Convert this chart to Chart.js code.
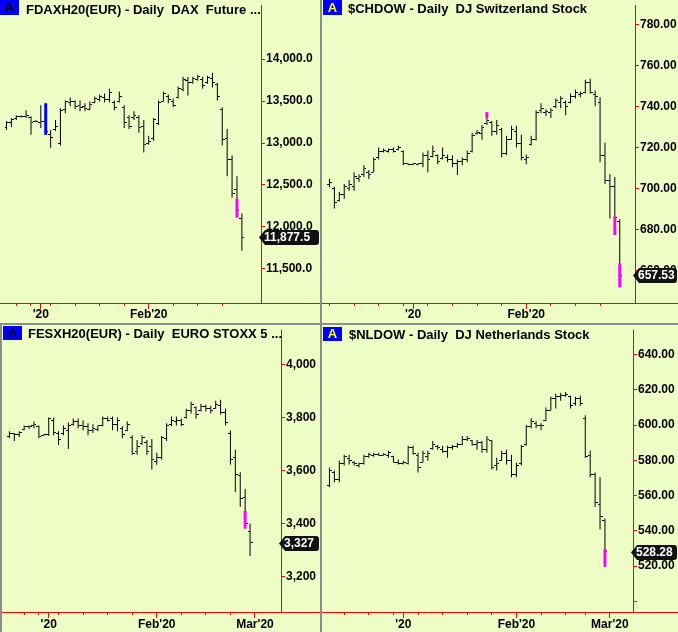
<!DOCTYPE html>
<html lang="en">
<head>
<meta charset="UTF-8">
<title>Daily bars - DAX, Switzerland, EURO STOXX, Netherlands</title>
<script src="https://cdn.jsdelivr.net/npm/chart.js"></script>
<style>
  html, body { margin: 0; padding: 0; }
  body { width: 678px; height: 632px; position: relative; overflow: hidden; background: #eefcc6; }
  canvas { position: absolute; }
  .sep { position: absolute; background: #8c8c8c; }
  .badge { position: absolute; width: 19px; background: #0000ff; font: bold 13px "Liberation Sans", Arial, sans-serif; text-align: center; }
  .title { position: absolute; font: bold 13px/15px "Liberation Sans", Arial, sans-serif; color: #000; white-space: pre; }
</style>
</head>
<body>
<canvas id="dax" width="320" height="323" style="left:0px;top:0px"></canvas>
<canvas id="chdow" width="356" height="323" style="left:322px;top:0px"></canvas>
<canvas id="fesx" width="320" height="307" style="left:0px;top:325px"></canvas>
<canvas id="nldow" width="356" height="307" style="left:322px;top:325px"></canvas>

<div class="sep" style="left:320px;top:0px;width:2px;height:632px"></div>
<div class="sep" style="left:0px;top:323px;width:678px;height:2px"></div>
<div class="sep" style="left:0px;top:325px;width:2px;height:307px"></div>

<div class="badge" style="left:0px;top:-1px;height:16px;line-height:17px;color:#000">A</div>
<div class="title" style="left:26px;top:2px">FDAXH20(EUR) - Daily  DAX  Future ...</div>
<div class="badge" style="left:323px;top:-1px;height:16px;line-height:17px;color:#ffff00">A</div>
<div class="title" style="left:348px;top:1px">$CHDOW - Daily  DJ Switzerland Stock</div>
<div class="badge" style="left:3px;top:326px;height:14px;line-height:14px;color:#000">A</div>
<div class="title" style="left:28px;top:326px">FESXH20(EUR) - Daily  EURO STOXX 5 ...</div>
<div class="badge" style="left:323px;top:327px;height:14px;line-height:14px;color:#ffff00">A</div>
<div class="title" style="left:349px;top:327px">$NLDOW - Daily  DJ Netherlands Stock</div>

<script>
// ---- DAX future (top left) ----
const daxOpen = [13180,13240,13290,13310,13320,13300,13260,13250,13260,13100,13160,13000,13400,13480,13490,13450,13430,13400,13480,13520,13540,13520,13480,13500,13420,13300,13300,13300,13200,13000,13050,13230,13500,13560,13500,13540,13640,13740,13720,13760,13760,13720,13770,13700,13400,13050,12800,12450,12100];
const daxHigh = [13262,13297,13332,13330,13391,13320,13275,13449,13473,13156,13273,13414,13508,13543,13508,13508,13473,13496,13555,13578,13590,13648,13508,13613,13449,13332,13379,13332,13273,13086,13297,13508,13613,13578,13531,13672,13789,13789,13789,13812,13789,13801,13836,13719,13426,13168,12851,12605,12160];
const daxLow = [13156,13191,13273,13305,13297,13098,13250,13180,13098,12945,13144,12969,13355,13437,13402,13379,13379,13391,13473,13496,13484,13484,13391,13484,13180,13168,13273,13121,12887,12980,13027,13215,13496,13473,13426,13531,13613,13566,13707,13742,13648,13707,13660,13508,12969,12605,12347,12113,11715];
const daxClose = [13240,13280,13310,13318,13330,13240,13262,13260,13140,13060,13200,13390,13490,13500,13440,13420,13410,13460,13530,13550,13520,13600,13420,13560,13250,13200,13330,13180,12980,13020,13280,13480,13590,13520,13450,13650,13760,13720,13770,13790,13680,13780,13720,13560,13040,12800,12400,12200,11877.5];
const daxBuy = [[8, 13098, 13473]];
const daxSell = [[47, 12113, 12336]];
const daxWeekIdx = [2, 5, 9, 14, 19, 24, 34, 39, 44];
const daxMonthIdx = [7, 29];
const daxMonthLbl = ["'20", "Feb'20"];
const daxYTicks = [11500, 12000, 12500, 13000, 13500, 14000];
const daxYLbl = ['11,500.0', '12,000.0', '12,500.0', '13,000.0', '13,500.0', '14,000.0'];

// ---- DJ Switzerland (top right) ----
const chOpen = [702,700,694,697,700,701,705,707,708,708, 715,718,718,719,719,718,712,711.8,711.8,712, 716,715.5,716,714.5,715,714,712,713,714,718, 727,727,731.5,732,728,729,717,724,728,722, 714,721.5,724,738,737,737,740,742,742,742, 745,746,747,752,746,742,716,704,701,684];
const chHigh = [704.8,700.8,698.4,702.2,704.2,708.0,707.0,711.4,709.0,715.2, 720.0,719.5,719.5,720.0,721.0,718.6,712.3,712.3,712.3,717.6, 718.6,721.0,716.6,720.0,716.6,716.2,714.2,715.2,718.6,727.2, 728.6,731.0,734.4,733.0,733.4,729.6,725.8,730.6,730.6,726.2, 716.6,725.8,738.2,741.6,738.7,739.2,744.0,745.0,743.0,746.4, 748.3,747.4,753.1,753.6,747.8,744.5,722.4,707.0,705.6,685.0];
const chLow = [700.6,690.2,693.6,695.0,698.9,698.9,703.2,705.6,704.6,708.0, 714.2,717.6,717.6,717.6,718.6,711.4,711.4,711.4,711.4,710.4, 708.0,715.2,711.8,714.2,712.8,710.4,706.6,711.4,712.8,717.6, 726.2,723.8,731.0,725.8,726.2,715.2,716.2,723.8,720.0,713.8, 711.8,721.0,723.4,736.8,735.4,734.4,739.2,739.2,735.8,741.6, 744.0,744.5,746.4,746.4,740.2,712.8,702.2,685.4,677.3,651.8];
const chClose = [703,693,697,701,702,706,706,710,707,714, 718,718.5,719,718,720,712,711.8,712,712,716, 714,718,713,716,714,712,713,714,717,726, 727.5,730,733,728,731,717,724,729,722,715, 715,724,737,739,737.5,738,743,744,740,745, 747,746.5,752,747,745,716,704,701,686,657.53];
const chBuy = [];
const chSell = [[32, 734.4, 737.3], [58, 677.3, 686.4], [59, 651.8, 663.4]];
const chWeekIdx = [0, 5, 10, 15, 20, 25, 30, 35, 45, 50, 55];
const chMonthIdx = [17, 40];
const chMonthLbl = ["'20", "Feb'20"];
const chYTicks = [660, 680, 700, 720, 740, 760, 780];
const chYLbl = ['660.00', '680.00', '700.00', '720.00', '740.00', '760.00', '780.00'];

// ---- EURO STOXX 50 future (bottom left) ----
const sxOpen = [3730,3740,3735,3755,3765,3768,3765,3733,3735,3790, 3740,3740,3750,3775,3785,3770,3765,3750,3755,3770, 3795,3795,3775,3760,3750,3725,3670,3700,3705,3690, 3635,3650,3720,3775,3785,3790,3800,3825,3838,3825, 3840,3835,3835,3845,3820,3740,3650,3580,3500,3370];
const sxHigh = [3748,3741,3748,3770,3770,3785,3770,3737,3800,3800, 3748,3770,3781,3796,3796,3789,3778,3774,3770,3804, 3804,3804,3800,3767,3785,3733,3715,3733,3715,3719, 3667,3730,3778,3804,3804,3796,3833,3859,3841,3852, 3848,3844,3863,3867,3833,3752,3678,3593,3530,3400];
const sxLow = [3722,3711,3726,3752,3756,3759,3722,3730,3730,3733, 3696,3733,3681,3770,3759,3752,3733,3741,3748,3767, 3785,3752,3748,3722,3748,3659,3659,3696,3659,3604, 3622,3641,3711,3767,3770,3767,3796,3815,3796,3822, 3822,3815,3833,3811,3770,3622,3519,3463,3381,3278];
const sxClose = [3740,3735,3745,3765,3766,3775,3730,3735,3795,3745, 3715,3760,3770,3785,3770,3765,3750,3760,3768,3795, 3790,3775,3790,3735,3775,3665,3690,3725,3670,3640, 3650,3725,3770,3790,3790,3775,3825,3850,3810,3840, 3835,3825,3850,3820,3780,3640,3585,3495,3400,3327];
const sxBuy = [];
const sxSell = [[48, 3381, 3448]];
const sxWeekIdx = [3, 6, 10, 15, 20, 25, 35, 40, 45];
const sxMonthIdx = [8, 30, 50];
const sxMonthLbl = ["'20", "Feb'20", "Mar'20"];
const sxYTicks = [3200, 3400, 3600, 3800, 4000];
const sxYLbl = ['3,200', '3,400', '3,600', '3,800', '4,000'];

// ---- DJ Netherlands (bottom right) ----
const nlOpen = [566,573,569,578,581,579,577,578,582,583, 583.5,583,583,582,579,578,578,587,583,579, 582,586.5,588,586,585,587,588,589,592,591, 589,590,586,591,577,580,584,580,572,578, 589,599,601,600,602.5,608.5,615,616,617,616, 612,615,604,583,572,555,546];
const nlHigh = [575.9,574.3,579.8,583.2,583.2,579.8,578.7,583.2,584.3,584.3, 584.3,584.0,585.4,582.6,580.4,579.8,588.2,588.2,584.3,585.4, 585.4,591.0,588.7,588.2,588.2,588.7,589.9,593.8,593.8,591.5, 591.5,591.0,593.8,591.5,581.5,585.4,586.0,583.2,578.7,588.7, 599.9,603.8,602.1,601.0,609.9,616.0,617.7,618.3,618.8,616.6, 616.0,616.6,605.5,585.4,573.1,570.4,547.0];
const nlLow = [564.8,567.6,567.6,577.0,577.6,577.0,575.9,577.6,581.5,582.1, 582.6,582.8,581.5,578.7,577.6,577.6,577.6,583.2,573.1,578.7, 579.8,586.0,586.0,584.3,581.5,586.0,587.1,588.7,591.0,588.2, 586.0,584.3,584.3,574.8,574.3,579.8,577.6,570.4,570.4,577.0, 588.2,598.2,598.2,597.1,602.1,608.2,609.4,613.8,616.0,609.4, 611.0,611.0,581.5,570.4,553.6,540.8,519.7];
const nlClose = [574,569,578,582,580,578,578,582,583.5,583.5, 583,583.5,584.5,579,578,578.5,587,584,576,584, 584,589,587,585,587,588,589,592,592.5,589, 590,586,592,576,578,584,580,572,577,588, 599,602,600,600,608,615,616,617,617.5,611, 615,612,582,572,556,548,528.28];
const nlBuy = [];
const nlSell = [[56, 519.7, 529.7]];
const nlWeekIdx = [3, 8, 13, 18, 23, 28, 33, 43, 48, 52];
const nlMonthIdx = [15, 38, 57];
const nlMonthLbl = ["'20", "Feb'20", "Mar'20"];
const nlYTicks = [500, 520, 540, 560, 580, 600, 620, 640];
const nlYLbl = ['', '520.00', '540.00', '560.00', '580.00', '600.00', '620.00', '640.00'];

const FONT = '"Liberation Sans", Arial, sans-serif';
Chart.defaults.font.family = FONT;

// little open / close nubs, drawn as point images
function nub(side) {
  const c = document.createElement('canvas');
  c.width = 5; c.height = 1;
  const g = c.getContext('2d');
  g.fillStyle = '#000';
  g.fillRect(side < 0 ? 0 : 3, 0, 2, 1);
  return c;
}
const openNub = nub(-1), closeNub = nub(1);

// full width x axis line + last price tag
const panelDeco = {
  id: 'panelDeco',
  afterDraw(chart, args, opts) {
    const {ctx, chartArea} = chart;
    ctx.save();
    ctx.fillStyle = '#ff0000';
    ctx.fillRect(0, Math.round(chartArea.bottom), chart.width, 1);

    const yc = Math.round(chart.scales.y.getPixelForValue(opts.last));
    const ax = chartArea.right;
    const top = yc - 7, bot = yc + 8, right = chart.width - 1, r = 3;
    ctx.fillStyle = '#111';
    ctx.beginPath();
    ctx.moveTo(ax - 2, yc + 0.5);
    ctx.lineTo(ax + 4, top);
    ctx.lineTo(right - r, top);
    ctx.quadraticCurveTo(right, top, right, top + r);
    ctx.lineTo(right, bot - r);
    ctx.quadraticCurveTo(right, bot, right - r, bot);
    ctx.lineTo(ax + 4, bot);
    ctx.closePath();
    ctx.fill();
    ctx.fillStyle = '#fff';
    ctx.font = 'bold 12px ' + FONT;
    ctx.textBaseline = 'middle';
    ctx.fillText(opts.text, ax + 3, yc + 1);
    ctx.restore();
  }
};

function ohlcChart(id, d, look) {
  const n = d.high.length;
  const bars = d.high.map((h, i) => ({x: i, y: [d.low[i], h]}));
  const opens = d.open.map((v, i) => ({x: i, y: v}));
  const closes = d.close.map((v, i) => ({x: i, y: v}));
  const sig = arr => arr.map(s => ({x: s[0], y: [s[1], s[2]]}));
  const last = d.close[n - 1];
  const barBase = {type: 'bar', xAxisID: 'x', yAxisID: 'y', grouped: false, inflateAmount: 0, borderWidth: 0};
  const xCommon = {type: 'linear', min: look.xMin, max: look.xMax, offset: false, bounds: 'data', position: 'bottom'};

  new Chart(document.getElementById(id), {
    type: 'bar',
    data: {
      datasets: [
        Object.assign({data: sig(d.buy), backgroundColor: '#0000ff', maxBarThickness: 3, order: 0}, barBase),
        Object.assign({data: sig(d.sell), backgroundColor: '#ff00ff', maxBarThickness: 3, order: 0}, barBase),
        {type: 'scatter', xAxisID: 'x', yAxisID: 'y', data: opens, pointStyle: openNub, pointRadius: 2, order: 1},
        {type: 'scatter', xAxisID: 'x', yAxisID: 'y', data: closes, pointStyle: closeNub, pointRadius: 2, order: 1},
        Object.assign({data: bars, backgroundColor: '#000', maxBarThickness: 1, order: 2}, barBase)
      ]
    },
    options: {
      responsive: false,
      devicePixelRatio: 1,
      animation: false,
      events: [],
      layout: {padding: 0},
      plugins: {
        legend: {display: false},
        tooltip: {enabled: false},
        panelDeco: {last: last, text: last.toLocaleString('en-US', {minimumFractionDigits: look.dec, maximumFractionDigits: look.dec})}
      },
      scales: {
        x: Object.assign({}, xCommon, {
          weight: 1,
          afterBuildTicks: s => { s.ticks = d.monthIdx.map(v => ({value: v})); },
          afterFit: s => { s.height = 20; s.paddingLeft = 0; s.paddingRight = 0; },
          grid: {offset: false, drawOnChartArea: false, color: '#ff0000', tickLength: 6},
          border: {display: false},
          ticks: {autoSkip: false, maxRotation: 0, padding: look.xPad, color: '#000',
                  font: {size: 12, weight: 'bold', lineHeight: 1},
                  callback: (v, i) => d.monthLbl[i]}
        }),
        xw: Object.assign({}, xCommon, {
          weight: 0,
          afterBuildTicks: s => { s.ticks = d.weekIdx.map(v => ({value: v})); },
          afterFit: s => { s.height = 0; s.paddingLeft = 0; s.paddingRight = 0; },
          grid: {offset: false, drawOnChartArea: false, color: '#ff0000', tickLength: 3},
          border: {display: false},
          ticks: {display: false}
        }),
        y: {
          type: 'linear', position: 'right', min: look.yMin, max: look.yMax, bounds: 'data', beginAtZero: false,
          afterBuildTicks: s => { s.ticks = d.yTicks.map(v => ({value: v})); },
          afterFit: s => { s.width = look.yWidth; s.paddingTop = 0; s.paddingBottom = 0; },
          grid: {drawOnChartArea: false, color: '#ff0000', tickLength: 4},
          border: {color: '#ff0000', width: 1},
          ticks: {autoSkip: false, padding: 1, color: '#000', font: {size: 12, weight: 'bold'},
                  callback: (v, i) => d.yLbl[i]}
        }
      }
    },
    plugins: [panelDeco]
  });
}

ohlcChart('dax',
  {open: daxOpen, high: daxHigh, low: daxLow, close: daxClose, buy: daxBuy, sell: daxSell,
   weekIdx: daxWeekIdx, monthIdx: daxMonthIdx, monthLbl: daxMonthLbl, yTicks: daxYTicks, yLbl: daxYLbl},
  {xMin: -0.3, xMax: 51.9, yMin: 11093.7, yMax: 14644.5, yWidth: 59, xPad: 0, dec: 1});

ohlcChart('chdow',
  {open: chOpen, high: chHigh, low: chLow, close: chClose, buy: chBuy, sell: chSell,
   weekIdx: chWeekIdx, monthIdx: chMonthIdx, monthLbl: chMonthLbl, yTicks: chYTicks, yLbl: chYLbl},
  {xMin: -0.5, xMax: 62.1, yMin: 644.1, yMax: 789.6, yWidth: 43, xPad: 0, dec: 2});

ohlcChart('fesx',
  {open: sxOpen, high: sxHigh, low: sxLow, close: sxClose, buy: sxBuy, sell: sxSell,
   weekIdx: sxWeekIdx, monthIdx: sxMonthIdx, monthLbl: sxMonthLbl, yTicks: sxYTicks, yLbl: sxYLbl},
  {xMin: -0.9, xMax: 55.3, yMin: 3066.7, yMax: 4129.6, yWidth: 39, xPad: 1, dec: 0});

ohlcChart('nldow',
  {open: nlOpen, high: nlHigh, low: nlLow, close: nlClose, buy: nlBuy, sell: nlSell,
   weekIdx: nlWeekIdx, monthIdx: nlMonthIdx, monthLbl: nlMonthLbl, yTicks: nlYTicks, yLbl: nlYLbl},
  {xMin: -0.5, xMax: 61.7, yMin: 494.0, yMax: 653.9, yWidth: 45, xPad: 1, dec: 2});
</script>
</body>
</html>
